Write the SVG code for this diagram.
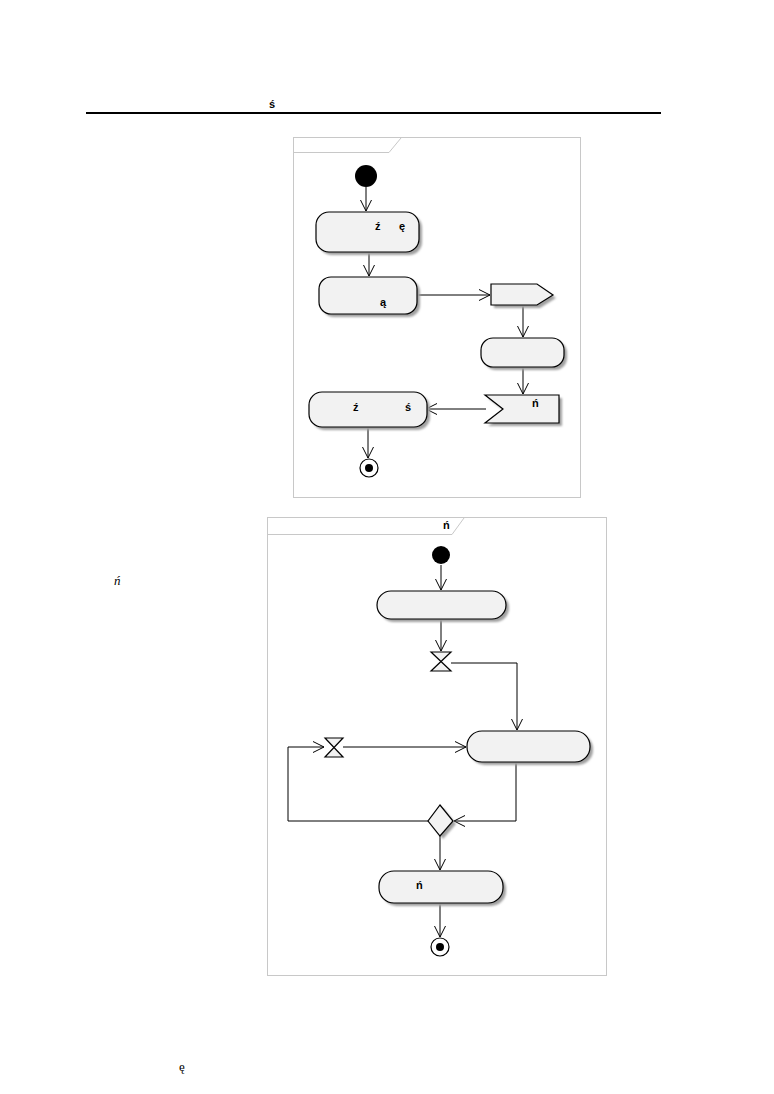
<svg xmlns="http://www.w3.org/2000/svg" width="774" height="1094" viewBox="0 0 774 1094">
<defs>
<marker id="a" markerWidth="12" markerHeight="12" refX="11" refY="6" orient="auto" markerUnits="userSpaceOnUse">
<path d="M0,0.5 L11,6 L0,11.5" fill="none" stroke="#000" stroke-width="1"/>
</marker>
<filter id="sh" x="-20%" y="-20%" width="140%" height="140%">
<feGaussianBlur stdDeviation="1.2"/>
</filter>
</defs>
<style>
.fr{fill:#fff;stroke:#c8c8c8;stroke-width:1}
.hd{fill:none;stroke:#c8c8c8;stroke-width:1}
.n{fill:#f2f2f2;stroke:#000;stroke-width:1.2}
.s{fill:#a0a0a0;filter:url(#sh)}
.c{fill:none;stroke:#000;stroke-width:1}
.t{font-family:"Liberation Sans",Arial,sans-serif;font-size:11px;font-weight:bold;fill:#000}
</style>
<rect width="774" height="1094" fill="#fff"/>
<text class="t" x="269" y="108" font-size="13">ś</text>
<line x1="86" y1="113" x2="661" y2="113" stroke="#000" stroke-width="2.2"/>
<text x="114" y="585" font-family="Liberation Serif,serif" font-style="italic" font-size="13">ń</text>
<text x="179" y="1071" font-family="Liberation Serif,serif" font-size="13">ę</text>

<g id="frame1">
<rect class="fr" x="293.5" y="137.5" width="287" height="360"/>
<path class="hd" d="M293.5,152.5 H389 L401,138"/>
</g>
<g id="frame2">
<rect class="fr" x="267.5" y="517.5" width="339" height="458"/>
<path class="hd" d="M267.5,534.5 H452 L464,518"/>
<text class="t" x="443" y="529">ń</text>
</g>

<g id="connectors">
<path class="c" d="M366,187 V211" marker-end="url(#a)"/>
<path class="c" d="M369,252 V276" marker-end="url(#a)"/>
<path class="c" d="M417,295 H490" marker-end="url(#a)"/>
<path class="c" d="M523,305 V337" marker-end="url(#a)"/>
<path class="c" d="M523,367 V394" marker-end="url(#a)"/>
<path class="c" d="M486,409 H426" marker-end="url(#a)"/>
<path class="c" d="M368,427 V458" marker-end="url(#a)"/>
<path class="c" d="M441,565 V590" marker-end="url(#a)"/>
<path class="c" d="M441,619 V651" marker-end="url(#a)"/>
<path class="c" d="M451,663 H517 V730" marker-end="url(#a)"/>
<path class="c" d="M343,747 H466" marker-end="url(#a)"/>
<path class="c" d="M516,762 V821 H454" marker-end="url(#a)"/>
<path class="c" d="M428,821 H288 V747 H324" marker-end="url(#a)"/>
<path class="c" d="M440,836 V870" marker-end="url(#a)"/>
<path class="c" d="M440,903 V937" marker-end="url(#a)"/>
</g>

<g id="start1"><circle cx="366" cy="176" r="11" fill="#000"/></g>
<g id="act1">
<rect class="s" x="319" y="215" width="103" height="40" rx="13"/>
<rect class="n" x="316" y="212" width="103" height="40" rx="13"/>
<text class="t" x="375" y="230">ź</text><text class="t" x="399" y="230">ę</text>
</g>
<g id="act2">
<rect class="s" x="322" y="280" width="98" height="37" rx="12"/>
<rect class="n" x="319" y="277" width="98" height="37" rx="12"/>
<text class="t" x="380" y="306">ą</text>
</g>
<g id="send1">
<path class="s" d="M494,287 H540 L556,298 L540,308 H494 Z"/>
<path class="n" d="M491,284 H537 L553,295 L537,305 H491 Z"/>
</g>
<g id="act3">
<rect class="s" x="484" y="341" width="83" height="29" rx="12"/>
<rect class="n" x="481" y="338" width="83" height="29" rx="12"/>
</g>
<g id="accept1">
<path class="s" d="M488,398 H562 V426 H488 L506,412 Z"/>
<path class="n" d="M485,395 H559 V423 H485 L503,409 Z"/>
<text class="t" x="532" y="407">ń</text>
</g>
<g id="act4">
<rect class="s" x="312" y="395" width="118" height="35" rx="13"/>
<rect class="n" x="309" y="392" width="118" height="35" rx="13"/>
<text class="t" x="353" y="411">ź</text><text class="t" x="405" y="411">ś</text>
</g>
<g id="end1">
<circle cx="369" cy="468" r="9" fill="#fff" stroke="#000" stroke-width="1.2"/>
<circle cx="369" cy="468" r="4" fill="#000"/>
</g>

<g id="start2"><circle cx="441" cy="555" r="9" fill="#000"/></g>
<g id="actA">
<rect class="s" x="380" y="594" width="129" height="28" rx="14"/>
<rect class="n" x="377" y="591" width="129" height="28" rx="14"/>
</g>
<g id="time1">
<path class="n" d="M431,652 H451 L431,671 H451 Z"/>
</g>
<g id="actB">
<rect class="s" x="470" y="734" width="123" height="31" rx="15"/>
<rect class="n" x="467" y="731" width="123" height="31" rx="15"/>
</g>
<g id="time2">
<path class="n" d="M325,738 H343 L325,757 H343 Z"/>
</g>
<g id="decision">
<path class="s" d="M443,808 L456,824 L443,839 L431,824 Z"/>
<path class="n" d="M440,805 L453,821 L440,836 L428,821 Z"/>
</g>
<g id="actC">
<rect class="s" x="382" y="874" width="124" height="32" rx="15"/>
<rect class="n" x="379" y="871" width="124" height="32" rx="15"/>
<text class="t" x="416" y="889">ń</text>
</g>
<g id="end2">
<circle cx="440" cy="947" r="9" fill="#fff" stroke="#000" stroke-width="1.2"/>
<circle cx="440" cy="947" r="4" fill="#000"/>
</g>
</svg>
